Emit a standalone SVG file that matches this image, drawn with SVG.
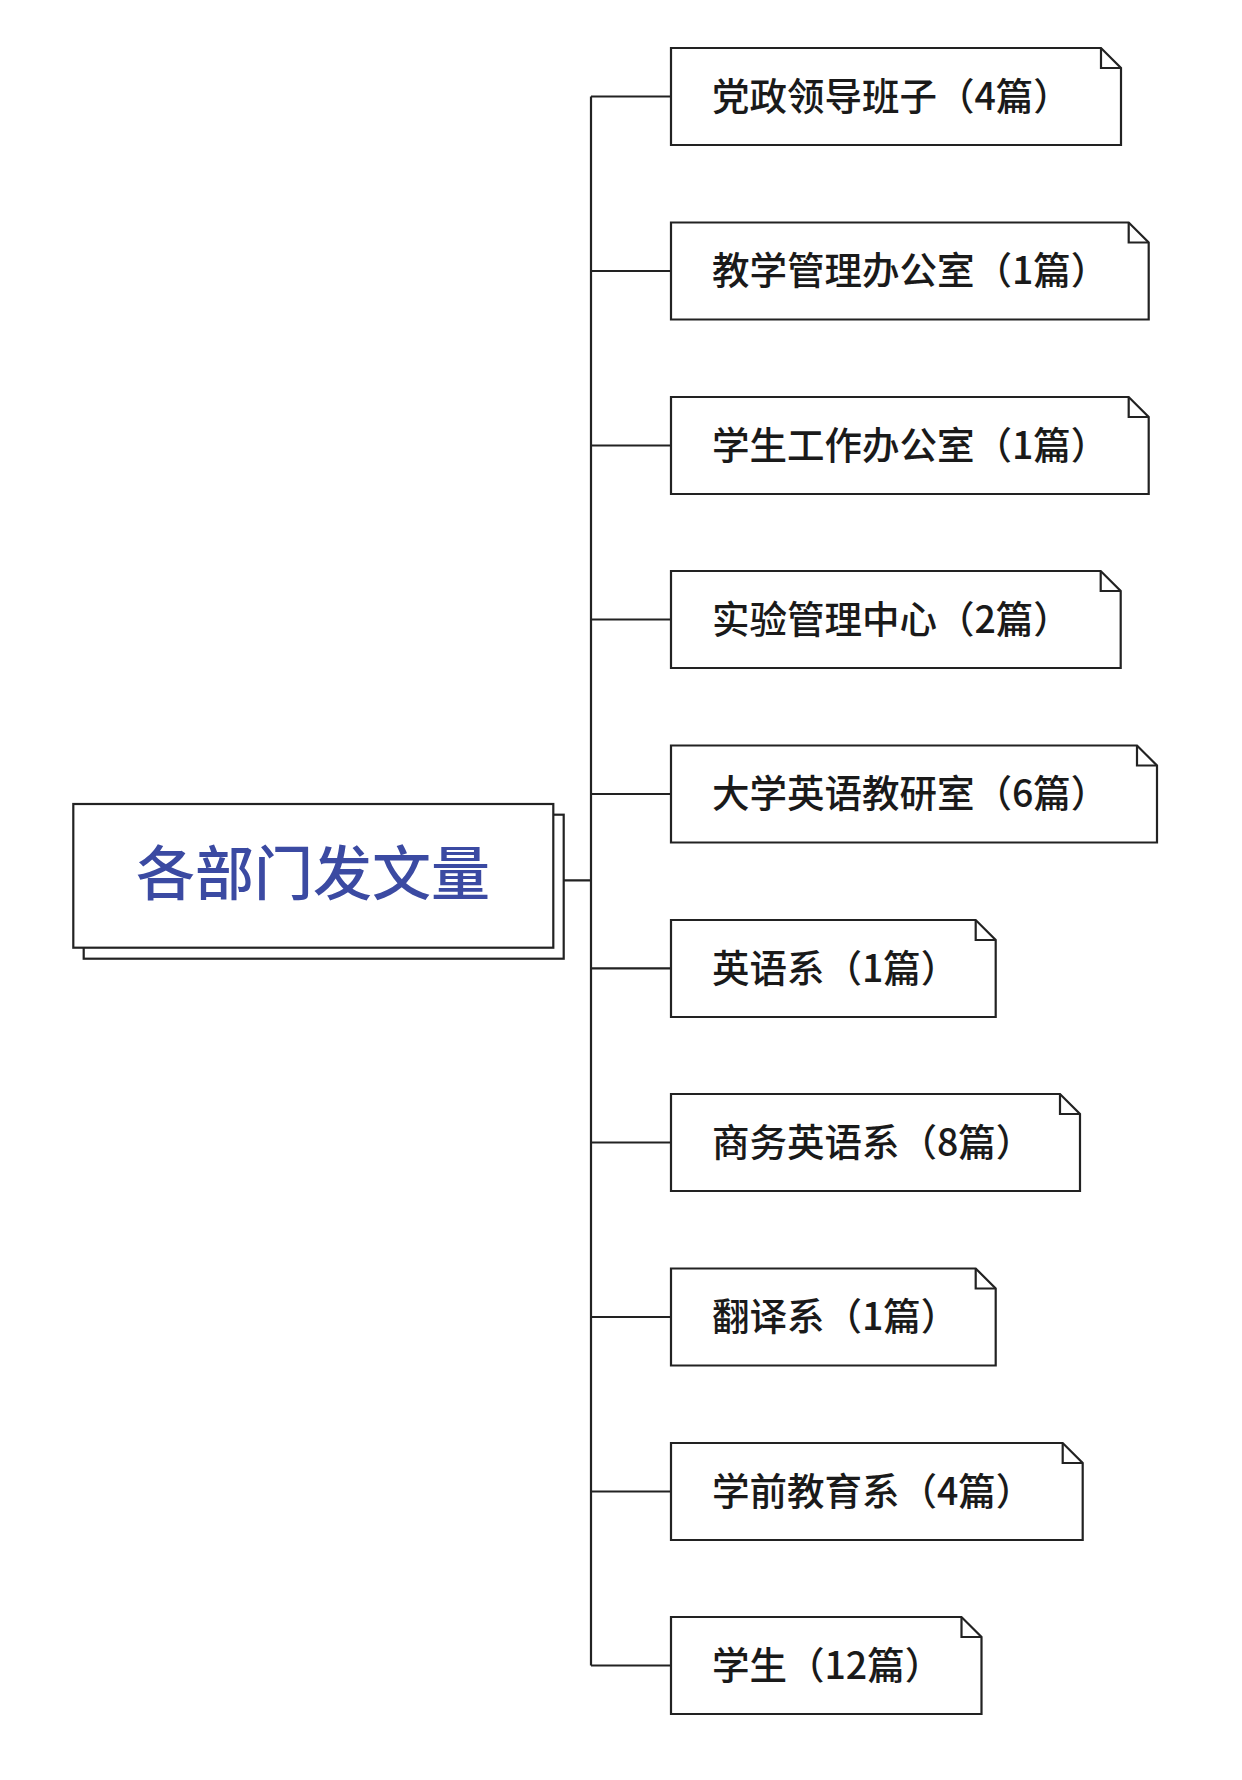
<svg xmlns="http://www.w3.org/2000/svg" width="1242" height="1780" viewBox="0 0 1242 1780">
<style>
.box{fill:#fff;stroke:#222;stroke-width:2.2;stroke-linejoin:miter}
.fold{fill:none;stroke:#222;stroke-width:2.2}
.lbl{font-family:"Noto Sans CJK SC","Noto Sans",sans-serif;font-size:37.5px;font-weight:500;fill:#1a1a1a}
.title{font-family:"Noto Sans CJK SC","Noto Sans",sans-serif;font-size:59px;font-weight:500;fill:#3b4aa2;text-anchor:middle}
.conn{fill:none;stroke:#222;stroke-width:2.2}
</style>
<rect width="1242" height="1780" fill="#fff"/>
<g id="connectors">
<path class="conn" d="M564,880.3 H591 M591,96.5 V1665.5 M591,96.5 H671 M591,271 H671 M591,445.5 H671 M591,619.5 H671 M591,794 H671 M591,968.3 H671 M591,1142.5 H671 M591,1317 H671 M591,1491.5 H671 M591,1665.5 H671"/>
</g>
<g id="root">
<rect class="box" x="83.7" y="814.7" width="480" height="144"/>
<rect class="box" x="73.3" y="804" width="480" height="143.7"/>
<text class="title" x="313" y="895">各部门发文量</text>
</g>
<g id="n1">
<path class="box" d="M671,48 H1101 L1121,68 V145 H671 Z"/><path class="fold" d="M1101,48 V68 H1121"/>
<text class="lbl" x="712" y="109.5">党政领导班子（4篇）</text>
</g>
<g id="n2">
<path class="box" d="M671,222.5 H1128.7 L1148.7,242.5 V319.5 H671 Z"/><path class="fold" d="M1128.7,222.5 V242.5 H1148.7"/>
<text class="lbl" x="712" y="284">教学管理办公室（1篇）</text>
</g>
<g id="n3">
<path class="box" d="M671,397 H1128.7 L1148.7,417 V494 H671 Z"/><path class="fold" d="M1128.7,397 V417 H1148.7"/>
<text class="lbl" x="712" y="458.5">学生工作办公室（1篇）</text>
</g>
<g id="n4">
<path class="box" d="M671,571 H1100.7 L1120.7,591 V668 H671 Z"/><path class="fold" d="M1100.7,571 V591 H1120.7"/>
<text class="lbl" x="712" y="632.5">实验管理中心（2篇）</text>
</g>
<g id="n5">
<path class="box" d="M671,745.5 H1137 L1157,765.5 V842.5 H671 Z"/><path class="fold" d="M1137,745.5 V765.5 H1157"/>
<text class="lbl" x="712" y="807">大学英语教研室（6篇）</text>
</g>
<g id="n6">
<path class="box" d="M671,920 H975.7 L995.7,940 V1017 H671 Z"/><path class="fold" d="M975.7,920 V940 H995.7"/>
<text class="lbl" x="712" y="981.5">英语系（1篇）</text>
</g>
<g id="n7">
<path class="box" d="M671,1094 H1060 L1080,1114 V1191 H671 Z"/><path class="fold" d="M1060,1094 V1114 H1080"/>
<text class="lbl" x="712" y="1155.5">商务英语系（8篇）</text>
</g>
<g id="n8">
<path class="box" d="M671,1268.5 H975.7 L995.7,1288.5 V1365.5 H671 Z"/><path class="fold" d="M975.7,1268.5 V1288.5 H995.7"/>
<text class="lbl" x="712" y="1330">翻译系（1篇）</text>
</g>
<g id="n9">
<path class="box" d="M671,1443 H1062.7 L1082.7,1463 V1540 H671 Z"/><path class="fold" d="M1062.7,1443 V1463 H1082.7"/>
<text class="lbl" x="712" y="1504.5">学前教育系（4篇）</text>
</g>
<g id="n10">
<path class="box" d="M671,1617 H961.5 L981.5,1637 V1714 H671 Z"/><path class="fold" d="M961.5,1617 V1637 H981.5"/>
<text class="lbl" x="712" y="1678.5">学生（12篇）</text>
</g>
</svg>
